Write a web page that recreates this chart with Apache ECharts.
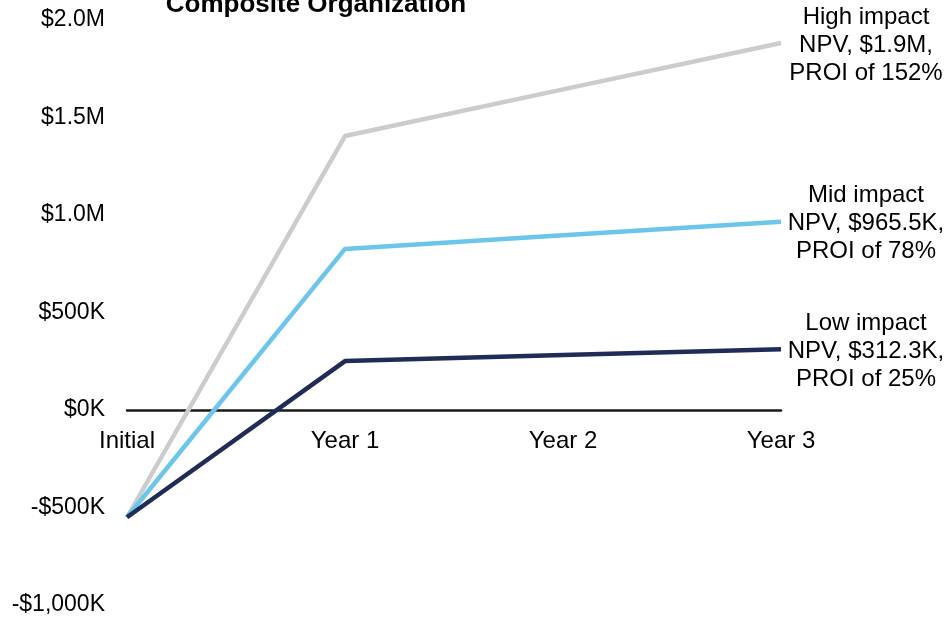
<!DOCTYPE html>
<html>
<head>
<meta charset="utf-8">
<script src="https://cdn.jsdelivr.net/npm/echarts@6/dist/echarts.min.js"></script>
<style>
  html, body { margin: 0; padding: 0; background: #fff; }
  #chart { width: 946px; height: 619px; }
</style>
</head>
<body>
<div id="chart"></div>
<script>
// categories on the x axis
const periods = ['Initial', 'Year 1', 'Year 2', 'Year 3']

// cumulative net cash flow, in $K
const highImpact = [-550, 1405, 1644, 1882]
const midImpact = [-550, 826, 896, 966]
const lowImpact = [-550, 251, 282, 312]

// end labels
const highLabel = 'High impact\nNPV, $1.9M,\nPROI of 152%'
const midLabel = 'Mid impact\nNPV, $965.5K,\nPROI of 78%'
const lowLabel = 'Low impact\nNPV, $312.3K,\nPROI of 25%'

const font = 'Liberation Sans, Arial, sans-serif'

const fmtY = function (v) {
  if (v >= 1000) return '$' + (v / 1000).toFixed(1) + 'M'
  if (v <= -1000) return '-$' + Math.abs(v).toLocaleString('en-US') + 'K'
  if (v < 0) return '-$' + Math.abs(v) + 'K'
  return '$' + v + 'K'
}

const makeSeries = function (name, data, color, text) {
  return {
    name: name,
    type: 'line',
    data: data,
    showSymbol: false,
    symbol: 'none',
    lineStyle: { color: color, width: 4.5 },
    itemStyle: { color: color },
    z: 3,
    endLabel: {
      show: true,
      formatter: function () { return text },
      color: '#000',
      fontFamily: font,
      fontSize: 24,
      lineHeight: 28,
      align: 'center',
      distance: 0,
      offset: [85, 2]
    }
  }
}

// grid box: top 20, bottom 605 -> zero line sits at 410
const gridTop = 20
const gridBottom = 14
const zeroShift = -(605 - 410)

const chart = echarts.init(document.getElementById('chart'))
chart.setOption({
  animation: false,
  title: {
    text: 'Composite Organization',
    left: 316,
    textAlign: 'center',
    top: -8,
    padding: 0,
    textStyle: { fontFamily: font, fontSize: 26, fontWeight: 'bold', color: '#000' }
  },
  grid: {
    left: 127, right: 165, top: gridTop, bottom: gridBottom,
    containLabel: false, outerBoundsMode: 'none'
  },
  xAxis: {
    type: 'category',
    data: periods,
    boundaryGap: false,
    offset: zeroShift,
    axisLine: { onZero: false, lineStyle: { color: '#1a1a1a', width: 2.5 } },
    axisTick: { show: false },
    axisLabel: { color: '#000', fontFamily: font, fontSize: 24, margin: 19 },
    splitLine: { show: false }
  },
  yAxis: {
    type: 'value',
    min: -1000,
    max: 2000,
    interval: 500,
    axisLine: { show: false },
    axisTick: { show: false },
    splitLine: { show: false },
    axisLabel: { color: '#000', fontFamily: font, fontSize: 23, margin: 22, formatter: fmtY }
  },
  series: [
    makeSeries('High impact', highImpact, '#cccccc', highLabel),
    makeSeries('Mid impact', midImpact, '#6cc5ea', midLabel),
    makeSeries('Low impact', lowImpact, '#1f2c56', lowLabel)
  ]
})
</script>
</body>
</html>
